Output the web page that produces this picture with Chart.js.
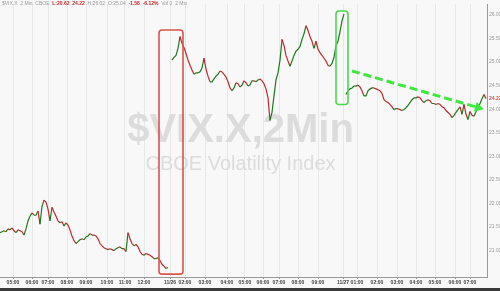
<!DOCTYPE html>
<html>
<head>
<meta charset="utf-8">
<script src="https://cdn.jsdelivr.net/npm/chart.js@4/dist/chart.umd.min.js"></script>
<style>
  body { margin: 0; background: #f8f8f8; }
  #wrap { width: 500px; height: 291px; }
</style>
</head>
<body>
<div id="wrap"><canvas id="vixChart" width="500" height="291"></canvas></div>
<script>
// 2-min bars, sampled; each session starts at its own bar number
const segStarts = [0, 86, 173];
const session1 = [21.38, 21.40, 21.42, 21.40, 21.46, 21.44, 21.48, 21.42, 21.38, 21.44, 21.42, 21.40, 21.33, 21.46, 21.63,
    21.73, 21.80, 21.75, 21.75, 21.84, 21.56, 21.94, 22.07, 22.03, 21.88, 21.63, 21.92, 21.82, 21.73, 21.63, 21.59, 21.61,
    21.52, 21.59, 21.54, 21.44, 21.31, 21.21, 21.15, 21.19, 21.23, 21.25, 21.23, 21.29, 21.31, 21.36, 21.33, 21.33, 21.31,
    21.25, 21.15, 21.10, 21.06, 21.04, 21.02, 21.04, 21.02, 21.00, 21.04, 21.06, 21.08, 21.04, 21.04, 20.98, 21.38, 21.25,
    21.15, 21.10, 21.13, 21.08, 20.98, 20.92, 20.90, 20.94, 20.92, 20.90, 20.87, 20.83, 20.83, 20.85, 20.79, 20.71, 20.67,
    20.62, 20.64];
const session2 = [25.04, 25.10, 25.14, 25.29, 25.54, 25.39, 25.31, 25.18, 25.04, 24.93, 24.83, 24.74, 24.77, 24.77, 24.79,
    24.87, 25.08, 24.85, 24.70, 24.58, 24.58, 24.64, 24.70, 24.74, 24.81, 24.79, 24.74, 24.68, 24.58, 24.45, 24.39, 24.45,
    24.56, 24.54, 24.47, 24.51, 24.60, 24.56, 24.49, 24.51, 24.60, 24.60, 24.58, 24.62, 24.64, 24.60, 24.54, 24.43, 24.24,
    23.76, 23.93, 24.28, 24.62, 24.77, 25.04, 25.48, 25.35, 25.14, 25.02, 24.91, 25.02, 25.14, 25.23, 25.27, 25.33, 25.48,
    25.60, 25.77, 25.67, 25.54, 25.44, 25.29, 25.44, 25.27, 25.20, 25.14, 25.08, 25.02, 24.93, 24.91, 24.97, 25.10, 25.35,
    25.44, 25.64, 25.87, 26.02];
const session3 = [24.31, 24.39, 24.43, 24.45, 24.49, 24.49, 24.51, 24.47, 24.39, 24.28, 24.28, 24.39, 24.43, 24.45, 24.45,
    24.43, 24.41, 24.39, 24.33, 24.20, 24.16, 24.14, 24.10, 24.05, 23.99, 24.01, 24.01, 23.99, 23.97, 23.99, 24.03, 24.08,
    24.14, 24.20, 24.24, 24.24, 24.26, 24.24, 24.18, 24.14, 24.18, 24.20, 24.18, 24.12, 24.12, 24.10, 24.12, 24.10, 24.05,
    24.03, 23.97, 23.93, 23.89, 23.82, 23.87, 23.93, 23.99, 24.05, 23.89, 24.10, 23.89, 23.78, 23.95, 23.87, 23.85, 23.95,
    24.01, 24.12, 24.22, 24.31, 24.22];

const tickBars = [6.5, 16, 24, 33.5, 43, 53.5, 62.5, 72, 85, 92.5, 102.5, 113.5, 122.5, 131.5, 139.5, 149, 159,
    171.5, 178.5, 188.5, 198.5, 208, 217.5, 227.5, 235];
const tickLabels = ['05:00', '06:00', '07:00', '08:00', '09:00', '10:00', '11:00', '12:00', '11/26', '02:00', '03:00',
    '04:00', '05:00', '06:00', '07:00', '08:00', '09:00', '11/27', '01:00', '02:00', '03:00', '04:00', '05:00', '06:00', '07:00'];
const yTicks = [21, 21.5, 22, 22.5, 23, 23.5, 24, 24.5, 25, 25.5, 26];

// header pieces: [text, red?]
const header = [['$VIX.X  2 Min  CBOE  ', false], ['L:20.62  24.22  ', true], ['H:26.02  O:25.04  ', false],
    ['-1.58  -6.12%', true], ['  Vol 0  2 Min', false]];

// boxes and trend arrow, in bar / price units
const redBox = { x0: 79.5, x1: 91.5, top: 25.68, bottom: 20.50 };
const greenBox = { x0: 168, x1: 174, top: 26.08, bottom: 24.10 };
const trend = { x0: 176, y0: 24.81, x1: 241, y1: 24.01 };

const points = [];
[session1, session2, session3].forEach((vals, s) => {
    vals.forEach((v, i) => points.push({ x: segStarts[s] + i, y: v }));
    points.push({ x: segStarts[s] + vals.length - 0.5, y: null });
});
const lastVal = session3[session3.length - 1];

const UP = '#1f7a1f', DOWN = '#c0282b';

const decor = {
    id: 'decor',
    beforeDraw(chart) {
        const c = chart.ctx;
        c.save();
        c.fillStyle = '#f8f8f8';
        c.fillRect(0, 0, chart.width, chart.height);
        c.restore();
    },
    beforeDatasetsDraw(chart) {
        const c = chart.ctx, a = chart.chartArea;
        const cx = (a.left + a.right) / 2 - 3;
        c.save();
        c.fillStyle = '#dcdcdc';
        c.textAlign = 'center';
        c.textBaseline = 'alphabetic';
        c.font = 'bold 40px "Liberation Sans", Arial, sans-serif';
        c.fillText('$VIX.X,2Min', cx, 142);
        c.font = '20px "Liberation Sans", Arial, sans-serif';
        c.fillText('CBOE Volatility Index', cx, 170);
        c.restore();
    },
    afterDatasetsDraw(chart) {
        const c = chart.ctx, xs = chart.scales.x, ys = chart.scales.y;
        c.save();
        const box = (b, col) => {
            const l = xs.getPixelForValue(b.x0), r = xs.getPixelForValue(b.x1);
            const t = ys.getPixelForValue(b.top), btm = ys.getPixelForValue(b.bottom);
            c.strokeStyle = col;
            c.lineWidth = 1.6;
            c.beginPath();
            c.roundRect(l, t, r - l, btm - t, 3);
            c.stroke();
        };
        box(redBox, '#d9534f');
        box(greenBox, '#4cd94c');

        const x0 = xs.getPixelForValue(trend.x0), y0 = ys.getPixelForValue(trend.y0);
        const x1 = xs.getPixelForValue(trend.x1), y1 = ys.getPixelForValue(trend.y1);
        const ang = Math.atan2(y1 - y0, x1 - x0);
        c.strokeStyle = '#3ee83e';
        c.fillStyle = '#3ee83e';
        c.lineWidth = 3;
        c.setLineDash([8, 4]);
        c.beginPath();
        c.moveTo(x0, y0);
        c.lineTo(x1 - 5 * Math.cos(ang), y1 - 5 * Math.sin(ang));
        c.stroke();
        c.setLineDash([]);
        c.beginPath();
        c.moveTo(x1 + 2 * Math.cos(ang), y1 + 2 * Math.sin(ang));
        c.lineTo(x1 - 7 * Math.cos(ang) - 5 * Math.sin(ang), y1 - 7 * Math.sin(ang) + 5 * Math.cos(ang));
        c.lineTo(x1 - 7 * Math.cos(ang) + 5 * Math.sin(ang), y1 - 7 * Math.sin(ang) - 5 * Math.cos(ang));
        c.closePath();
        c.fill();

        // last price tag on the axis
        c.fillStyle = '#d9534f';
        c.font = 'bold 5px "Liberation Sans", Arial, sans-serif';
        c.textBaseline = 'middle';
        c.fillText(lastVal.toFixed(2), ys.left + 2, ys.getPixelForValue(lastVal));

        // header line
        c.textBaseline = 'top';
        let hx = 2;
        header.forEach(([txt, red]) => {
            c.font = (red ? 'bold ' : '') + '5px "Liberation Sans", Arial, sans-serif';
            c.fillStyle = red ? '#c0282b' : '#9a9a9a';
            c.fillText(txt, hx, 1);
            hx += c.measureText(txt).width;
        });

        // dark strip along the bottom
        c.fillStyle = '#3a3a3a';
        c.fillRect(0, chart.height - 3, chart.width, 3);
        c.restore();
    }
};

new Chart(document.getElementById('vixChart'), {
    type: 'line',
    data: {
        datasets: [{
            data: points,
            borderWidth: 1.2,
            pointRadius: 0,
            spanGaps: false,
            tension: 0,
            segment: {
                borderColor: ctx => ctx.p1.parsed.y >= ctx.p0.parsed.y ? UP : DOWN
            }
        }]
    },
    options: {
        responsive: false,
        animation: false,
        layout: { padding: 0 },
        plugins: { legend: { display: false }, tooltip: { enabled: false } },
        scales: {
            x: {
                type: 'linear',
                min: 0,
                max: 243.5,
                afterBuildTicks: s => { s.ticks = tickBars.map(v => ({ value: v })); },
                afterFit: s => { s.height = 14; },
                ticks: {
                    autoSkip: false,
                    maxRotation: 0,
                    padding: 1,
                    font: { size: 5, weight: 'bold', family: '"Liberation Sans", Arial' },
                    color: '#444',
                    callback: (v, i) => tickLabels[i]
                },
                grid: { color: '#e8e8e8', tickLength: 2, tickColor: '#999' },
                border: { color: '#999' }
            },
            y: {
                position: 'right',
                min: 20.44,
                max: 26.23,
                afterBuildTicks: s => { s.ticks = yTicks.map(v => ({ value: v })); },
                afterFit: s => { s.width = 13; },
                ticks: {
                    padding: 1,
                    font: { size: 5, family: '"Liberation Sans", Arial' },
                    color: '#999',
                    callback: v => v.toFixed(2)
                },
                grid: { drawOnChartArea: false, tickLength: 1, color: '#999' },
                border: { color: '#999' }
            }
        }
    },
    plugins: [decor]
});
</script>
</body>
</html>
